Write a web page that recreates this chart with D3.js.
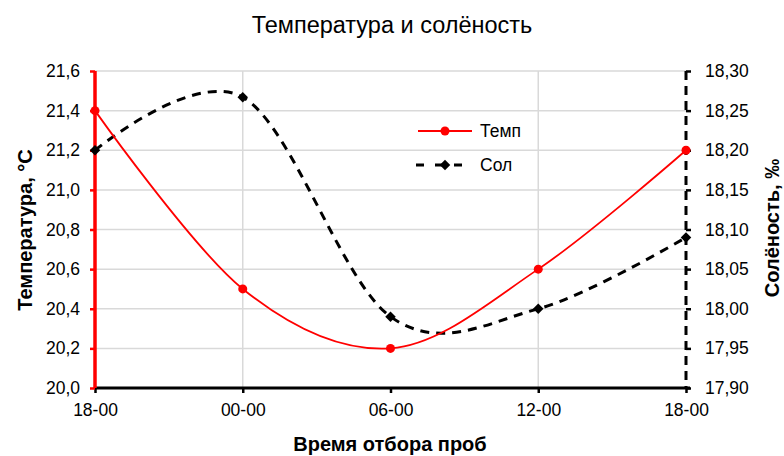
<!DOCTYPE html>
<html><head><meta charset="utf-8">
<script src="https://cdn.jsdelivr.net/npm/d3@7"></script>
<style>body{margin:0;background:#fff}svg{display:block;font-family:"Liberation Sans",Arial,sans-serif}</style>
</head><body><svg id="c" width="784" height="456"></svg>
<script>
const categories = ["18-00","00-00","06-00","12-00","18-00"];
const temp = [21.4, 20.5, 20.2, 20.6, 21.2];
const sol = [18.20, 18.267, 17.99, 18.00, 18.09];
const leftTicks = [20.0,20.2,20.4,20.6,20.8,21.0,21.2,21.4,21.6];
const rightTicks = [17.90,17.95,18.00,18.05,18.10,18.15,18.20,18.25,18.30];
const vGridIdx = [1,3];

const svg = d3.select("#c");
const L=95, R=686, T=71, B=388;
const FS = 17.5;
const x = d3.scalePoint().domain(d3.range(categories.length)).range([L,R]);
const yL = d3.scaleLinear().domain([20,21.6]).range([B,T]);
const yR = d3.scaleLinear().domain([17.9,18.3]).range([B,T]);
const fmt = (d,n)=>d.toFixed(n).replace(".",",");

// grid
svg.append("g").selectAll("line").data(leftTicks.slice(1)).join("line")
  .attr("x1",L).attr("x2",R).attr("y1",d=>yL(d)).attr("y2",d=>yL(d))
  .attr("stroke","#d9d9d9").attr("stroke-width",1.5);
svg.append("g").selectAll("line").data(vGridIdx).join("line")
  .attr("x1",d=>x(d)).attr("x2",d=>x(d)).attr("y1",T).attr("y2",B)
  .attr("stroke","#d9d9d9").attr("stroke-width",1.5);

// bottom axis
const xa = d3.axisBottom(x).tickFormat(i=>categories[i]).tickSize(5).tickPadding(11);
const gx = svg.append("g").attr("transform",`translate(0,${B})`).call(xa);
gx.select(".domain").remove();
gx.selectAll(".tick line").attr("stroke","#000").attr("stroke-width",2.5);
gx.selectAll("text").attr("font-size",FS).attr("fill","#000").attr("font-family","Liberation Sans, Arial, sans-serif");
svg.append("line").attr("x1",L).attr("x2",R+4).attr("y1",B).attr("y2",B).attr("stroke","#000").attr("stroke-width",3);

// left axis
const ya = d3.axisLeft(yL).tickValues(leftTicks).tickFormat(d=>fmt(d,1)).tickSize(5).tickPadding(10);
const gl = svg.append("g").attr("transform",`translate(${L},0)`).call(ya);
gl.select(".domain").remove();
gl.selectAll(".tick line").attr("stroke","#ff0000").attr("stroke-width",2.5);
gl.selectAll("text").attr("font-size",FS).attr("fill","#000").attr("font-family","Liberation Sans, Arial, sans-serif");
svg.append("line").attr("x1",L).attr("x2",L).attr("y1",T).attr("y2",B).attr("stroke","#ff0000").attr("stroke-width",3.5);

// right axis
const yra = d3.axisRight(yR).tickValues(rightTicks).tickFormat(d=>fmt(d,2)).tickSize(5).tickPadding(14);
const gr = svg.append("g").attr("transform",`translate(${R},0)`).call(yra);
gr.select(".domain").remove();
gr.selectAll(".tick line").attr("stroke","#000").attr("stroke-width",2.5);
gr.selectAll("text").attr("font-size",FS).attr("fill","#000").attr("font-family","Liberation Sans, Arial, sans-serif");
svg.append("line").attr("x1",R).attr("x2",R).attr("y1",T).attr("y2",B).attr("stroke","#000").attr("stroke-width",3).attr("stroke-dasharray","9,6");

// lines
const lt = d3.line().x((d,i)=>x(i)).y(d=>yL(d)).curve(d3.curveCardinal.tension(0));
const ls = d3.line().x((d,i)=>x(i)).y(d=>yR(d)).curve(d3.curveCardinal.tension(0));
svg.append("path").attr("d",ls(sol)).attr("fill","none").attr("stroke","#000").attr("stroke-width",3).attr("stroke-dasharray","9,7");
svg.append("path").attr("d",lt(temp)).attr("fill","none").attr("stroke","#ff0000").attr("stroke-width",1.8);
const diamond = d3.symbol().type(d3.symbolDiamond2 || d3.symbolDiamond).size(70);
svg.append("g").selectAll("path").data(sol).join("path")
  .attr("d",diamond).attr("transform",(d,i)=>`translate(${x(i)},${yR(d)})`).attr("fill","#000");
svg.append("g").selectAll("circle").data(temp).join("circle")
  .attr("cx",(d,i)=>x(i)).attr("cy",d=>yL(d)).attr("r",4.5).attr("fill","#ff0000");

// legend
const lg = svg.append("g");
lg.append("line").attr("x1",418).attr("x2",472).attr("y1",131).attr("y2",131).attr("stroke","#ff0000").attr("stroke-width",1.8);
lg.append("circle").attr("cx",445).attr("cy",131).attr("r",4.5).attr("fill","#ff0000");
lg.append("text").attr("x",480).attr("y",137).attr("font-size",FS).text("Темп");
lg.append("line").attr("x1",416).attr("x2",472).attr("y1",165).attr("y2",165).attr("stroke","#000").attr("stroke-width",3).attr("stroke-dasharray","8,11");
lg.append("path").attr("d",diamond).attr("transform","translate(445,165)").attr("fill","#000");
lg.append("text").attr("x",480).attr("y",171).attr("font-size",FS).text("Сол");

// titles
svg.append("text").attr("x",392).attr("y",33).attr("text-anchor","middle").attr("font-size",23.5).text("Температура и солёность");
svg.append("text").attr("x",390).attr("y",451).attr("text-anchor","middle").attr("font-size",20).attr("font-weight","bold").text("Время отбора проб");
svg.append("text").attr("transform","translate(32,230) rotate(-90)").attr("text-anchor","middle").attr("font-size",20).attr("font-weight","bold").text("Температура, °С");
svg.append("text").attr("transform","translate(779,228) rotate(-90)").attr("text-anchor","middle").attr("font-size",20).attr("font-weight","bold").text("Солёность, ‰");
</script></body></html>
